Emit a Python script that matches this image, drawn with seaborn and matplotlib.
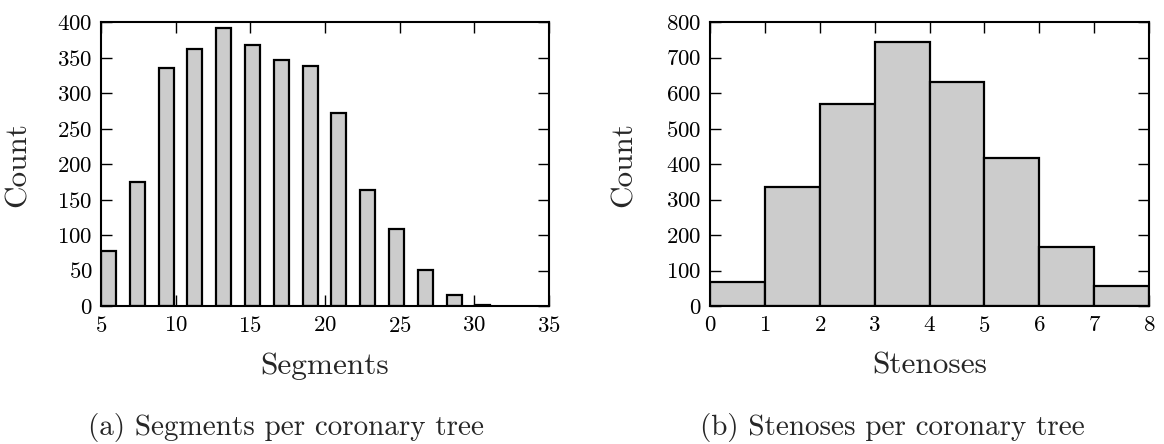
import matplotlib
matplotlib.use("Agg")
import matplotlib.pyplot as plt
import numpy as np
import pandas as pd
import seaborn as sns

# counts
seg_counts = [77, 175, 335, 362, 391, 367, 347, 338, 272, 164, 109, 51, 16, 2]
sten_values = [0, 1, 2, 3, 4, 5, 6, 7]
sten_counts = [68, 334, 570, 743, 631, 418, 167, 57]
seg_ticks = [5, 10, 15, 20, 25, 30, 35]
seg_yticks = list(range(0, 401, 50))
sten_yticks = list(range(0, 801, 100))

sns.set_style("ticks")
plt.rcParams.update({
    "font.family": "serif",
    "font.serif": ["cmr10", "DejaVu Serif"],
    "mathtext.fontset": "cm",
    "axes.formatter.use_mathtext": True,
    "axes.linewidth": 1.5,
    "axes.edgecolor": "black",
    "xtick.direction": "in",
    "ytick.direction": "in",
    "xtick.top": True,
    "ytick.right": True,
    "xtick.major.size": 8,
    "ytick.major.size": 8,
    "xtick.major.width": 1.0,
    "ytick.major.width": 1.0,
    "xtick.labelsize": 16.5,
    "ytick.labelsize": 16.5,
    "axes.labelsize": 22.5,
    "xtick.color": "black",
    "ytick.color": "black",
    "xtick.major.pad": 7,
    "ytick.major.pad": 6,
})

fig = plt.figure(figsize=(11.64, 4.44), dpi=100)
ax1 = fig.add_axes([101/1164, 1-306/444, 448/1164, 284/444])
ax2 = fig.add_axes([710/1164, 1-306/444, 439/1164, 284/444])

# left: 14 bins, bars narrower than the bins
bw = 27/14
start = 4.535
seg_df = pd.DataFrame({"seg": start + bw*(np.arange(len(seg_counts)) + 0.5), "n": seg_counts})
sns.histplot(data=seg_df, x="seg", weights="n", binwidth=bw,
             binrange=(start, start + bw*len(seg_counts)), shrink=1.0/bw,
             color="0.8", edgecolor="black", linewidth=1.6, alpha=1, ax=ax1)
ax1.set_xlim(5, 35)
ax1.set_ylim(0, 400)
ax1.set_xticks(seg_ticks)
ax1.set_yticks(seg_yticks)
ax1.set_xlabel("Segments", va="top")
ax1.set_ylabel("Count")
ax1.xaxis.set_label_coords(0.5, -0.162)
ax1.yaxis.set_label_coords(-0.154, 0.5)

sten_df = pd.DataFrame({"sten": np.array(sten_values) + 0.5, "n": sten_counts})
sns.histplot(data=sten_df, x="sten", weights="n", binwidth=1, binrange=(0, 8),
             color="0.8", edgecolor="black", linewidth=1.6, alpha=1, ax=ax2)
ax2.set_xlim(0, 8)
ax2.set_ylim(0, 800)
ax2.set_xticks(range(0, 9))
ax2.set_yticks(sten_yticks)
ax2.set_xlabel("Stenoses", va="top")
ax2.set_ylabel("Count")
ax2.xaxis.set_label_coords(0.5, -0.162)
ax2.yaxis.set_label_coords(-0.164, 0.5)

for ax in (ax1, ax2):
    for s in ax.spines.values():
        s.set_visible(True)
        s.set_zorder(5)

fig.text(286/1164, 1-435/444, "(a) Segments per coronary tree", ha="center", va="baseline", fontsize=21)
fig.text(892/1164, 1-435/444, "(b) Stenoses per coronary tree", ha="center", va="baseline", fontsize=21)

fig.savefig("out.png", dpi=100)
